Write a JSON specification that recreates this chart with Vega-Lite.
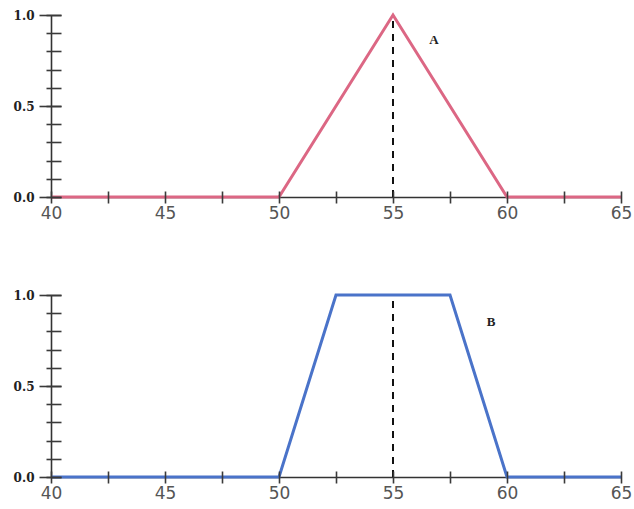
{
  "$schema": "https://vega.github.io/schema/vega-lite/v6.json",
  "autosize": {"type": "pad"},
  "padding": {"left": 13, "top": 9, "right": 0, "bottom": 0},
  "background": "white",
  "config": {
    "view": {"stroke": null},
    "axis": {
      "grid": false,
      "title": null,
      "domainColor": "#333333",
      "tickColor": "#3a3a3a",
      "domainWidth": 1.6,
      "tickWidth": 1.6
    }
  },
  "datasets": {
    "setA": [
      {"x": 40, "mu": 0},
      {"x": 50, "mu": 0},
      {"x": 55, "mu": 1},
      {"x": 60, "mu": 0},
      {"x": 65, "mu": 0}
    ],
    "setB": [
      {"x": 40, "mu": 0},
      {"x": 50, "mu": 0},
      {"x": 52.5, "mu": 1},
      {"x": 57.5, "mu": 1},
      {"x": 60, "mu": 0},
      {"x": 65, "mu": 0}
    ],
    "centre": [{"x": 55, "mu": 0, "mu2": 1}],
    "nameA": [{"x": 56.8, "mu": 0.86, "label": "A"}],
    "nameB": [{"x": 59.3, "mu": 0.85, "label": "B"}]
  },
  "bounds": "flush",
  "spacing": 98,
  "vconcat": [
    {
      "width": 570,
      "height": 182,
      "layer": [
        {
          "data": {"name": "setA"},
          "mark": {"type": "line", "color": "#dc6784", "strokeWidth": 3, "strokeJoin": "miter"},
          "encoding": {
            "x": {
              "field": "x", "type": "quantitative",
              "scale": {"domain": [40, 65], "nice": false, "zero": false},
              "axis": {
                "orient": "bottom", "zindex": 1, "domain": false, "offset": -6, "tickSize": 12,
                "values": [40, 42.5, 45, 47.5, 50, 52.5, 55, 57.5, 60, 62.5, 65],
                "labelExpr": "datum.value % 5 === 0 ? datum.label : ''",
                "labelFlush": false, "labelOverlap": false, "labelPadding": 2,
                "labelFont": "DejaVu Sans", "labelFontSize": 17, "labelColor": "#555555"
              }
            },
            "y": {
              "field": "mu", "type": "quantitative",
              "scale": {"domain": [0, 1], "nice": false},
              "axis": {
                "orient": "left", "zindex": 1, "domain": false, "offset": -10, "tickSize": 22,
                "values": [0, 0.5, 1], "format": ".1f", "labelPadding": 5,
                "labelFont": "DejaVu Serif", "labelFontWeight": "bold", "labelFontSize": 12,
                "labelColor": "#222222", "labelOverlap": false
              }
            }
          }
        },
        {
          "data": {"name": "centre"},
          "mark": {"type": "rule", "color": "#111111", "strokeWidth": 2, "strokeDash": [7, 6]},
          "encoding": {
            "x": {
              "field": "x", "type": "quantitative",
              "scale": {"domain": [40, 65], "nice": false, "zero": false},
              "axis": {"orient": "bottom", "zindex": 0, "domain": true, "ticks": false, "labels": false}
            },
            "y": {
              "field": "mu", "type": "quantitative",
              "scale": {"domain": [0, 1], "nice": false},
              "axis": {
                "orient": "left", "zindex": 1, "domain": false, "offset": -10, "tickSize": 15,
                "values": [0, 0.1, 0.2, 0.3, 0.4, 0.5, 0.6, 0.7, 0.8, 0.9, 1], "labels": false
              }
            },
            "y2": {"field": "mu2"}
          }
        },
        {
          "data": {"name": "nameA"},
          "mark": {"type": "text", "font": "Liberation Serif", "fontWeight": "bold", "fontSize": 13, "color": "#222222"},
          "encoding": {
            "x": {"field": "x", "type": "quantitative", "scale": {"domain": [40, 65], "nice": false, "zero": false}, "axis": null},
            "y": {
              "field": "mu", "type": "quantitative",
              "scale": {"domain": [0, 1], "nice": false},
              "axis": {"orient": "left", "zindex": 0, "domain": true, "ticks": false, "labels": false}
            },
            "text": {"field": "label"}
          }
        }
      ],
      "resolve": {"axis": {"x": "independent", "y": "independent"}}
    },
    {
      "width": 570,
      "height": 182,
      "layer": [
        {
          "data": {"name": "setB"},
          "mark": {"type": "line", "color": "#4a73c9", "strokeWidth": 3, "strokeJoin": "miter"},
          "encoding": {
            "x": {
              "field": "x", "type": "quantitative",
              "scale": {"domain": [40, 65], "nice": false, "zero": false},
              "axis": {
                "orient": "bottom", "zindex": 1, "domain": false, "offset": -6, "tickSize": 12,
                "values": [40, 42.5, 45, 47.5, 50, 52.5, 55, 57.5, 60, 62.5, 65],
                "labelExpr": "datum.value % 5 === 0 ? datum.label : ''",
                "labelFlush": false, "labelOverlap": false, "labelPadding": 2,
                "labelFont": "DejaVu Sans", "labelFontSize": 17, "labelColor": "#555555"
              }
            },
            "y": {
              "field": "mu", "type": "quantitative",
              "scale": {"domain": [0, 1], "nice": false},
              "axis": {
                "orient": "left", "zindex": 1, "domain": false, "offset": -10, "tickSize": 22,
                "values": [0, 0.5, 1], "format": ".1f", "labelPadding": 5,
                "labelFont": "DejaVu Serif", "labelFontWeight": "bold", "labelFontSize": 12,
                "labelColor": "#222222", "labelOverlap": false
              }
            }
          }
        },
        {
          "data": {"name": "centre"},
          "mark": {"type": "rule", "color": "#111111", "strokeWidth": 2, "strokeDash": [7, 6]},
          "encoding": {
            "x": {
              "field": "x", "type": "quantitative",
              "scale": {"domain": [40, 65], "nice": false, "zero": false},
              "axis": {"orient": "bottom", "zindex": 0, "domain": true, "ticks": false, "labels": false}
            },
            "y": {
              "field": "mu", "type": "quantitative",
              "scale": {"domain": [0, 1], "nice": false},
              "axis": {
                "orient": "left", "zindex": 1, "domain": false, "offset": -10, "tickSize": 15,
                "values": [0, 0.1, 0.2, 0.3, 0.4, 0.5, 0.6, 0.7, 0.8, 0.9, 1], "labels": false
              }
            },
            "y2": {"field": "mu2"}
          }
        },
        {
          "data": {"name": "nameB"},
          "mark": {"type": "text", "font": "Liberation Serif", "fontWeight": "bold", "fontSize": 13, "color": "#222222"},
          "encoding": {
            "x": {"field": "x", "type": "quantitative", "scale": {"domain": [40, 65], "nice": false, "zero": false}, "axis": null},
            "y": {
              "field": "mu", "type": "quantitative",
              "scale": {"domain": [0, 1], "nice": false},
              "axis": {"orient": "left", "zindex": 0, "domain": true, "ticks": false, "labels": false}
            },
            "text": {"field": "label"}
          }
        }
      ],
      "resolve": {"axis": {"x": "independent", "y": "independent"}}
    }
  ]
}
